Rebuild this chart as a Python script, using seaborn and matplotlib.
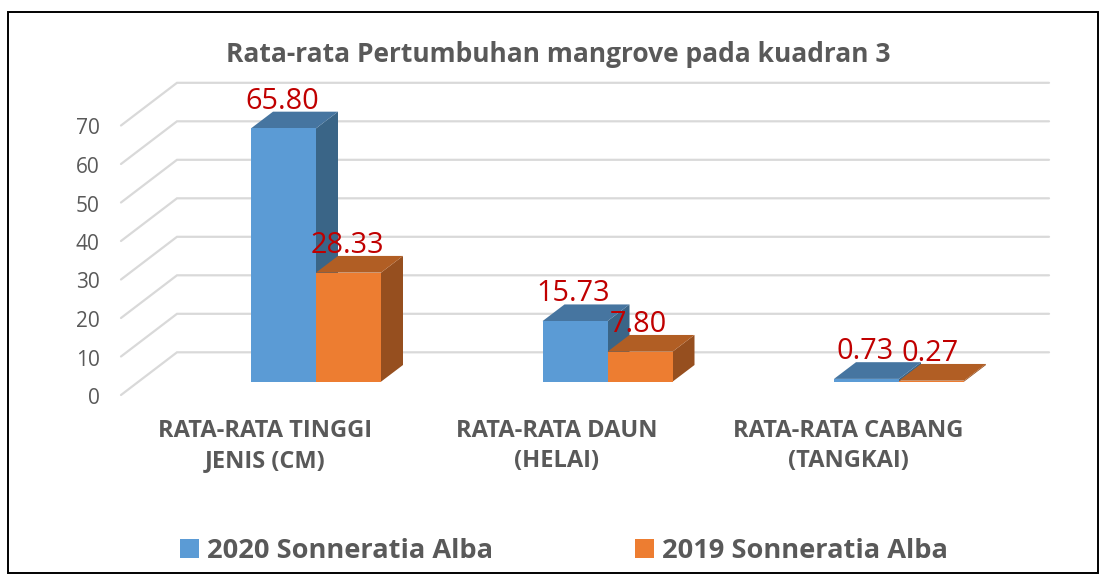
import pandas as pd
import numpy as np
import matplotlib
matplotlib.use('Agg')
import matplotlib.pyplot as plt
import seaborn as sns
from matplotlib.patches import Polygon, Rectangle
from matplotlib.transforms import ScaledTranslation

categories = ['RATA-RATA TINGGI\nJENIS (CM)', 'RATA-RATA DAUN\n(HELAI)', 'RATA-RATA CABANG\n(TANGKAI)']
series_names = ['2020 Sonneratia Alba', '2019 Sonneratia Alba']
values_2020 = [65.80, 15.73, 0.73]
values_2019 = [28.33, 7.80, 0.27]
y_ticks = [0, 10, 20, 30, 40, 50, 60, 70]

df = pd.DataFrame({
    'kategori': categories * 2,
    'seri': [series_names[0]] * 3 + [series_names[1]] * 3,
    'nilai': values_2020 + values_2019,
})

sns.set_theme(style='white')
plt.rcParams['font.family'] = ['Open Sans', 'DejaVu Sans']

W, H = 1099, 574
fig = plt.figure(figsize=(W / 100, H / 100), dpi=100, facecolor='white')

# axes placed so that y=0 is the front edge of the bars
left, right, base, top = 121, 1049, 381.7, 60
px_y = 3.85     # pixels per unit
px_x = 291.5    # pixels per category
ax = fig.add_axes([left / W, (H - base) / H, (right - left) / W, (base - top) / H])

front = {series_names[0]: '#5B9BD5', series_names[1]: '#ED7D31'}
top_col = {series_names[0]: '#4675A0', series_names[1]: '#B15E24'}
side_col = {series_names[0]: '#3A6587', series_names[1]: '#964F1F'}

sns.barplot(data=df, x='kategori', y='nilai', hue='seri', palette=front,
            width=65 * 2 / px_x, gap=0, saturation=1, ax=ax, zorder=2, linewidth=0)

ax.set_xlim((left - 316) / px_x, (right - 316) / px_x)
ax.set_ylim(0, (base - top) / px_y)
ax.set_xlabel('')
ax.set_ylabel('')
sns.despine(ax=ax, left=True, bottom=True)
ax.patch.set_alpha(0)

# wall and floor gridlines
wall_up = (base - 352.3) / px_y
floor_down = (395 - base) / px_y
back_x = (177 - 316) / px_x
for v in y_ticks:
    ax.plot([ax.get_xlim()[0], back_x, ax.get_xlim()[1]],
            [v - floor_down, v + wall_up, v + wall_up],
            color='#D9D9D9', lw=1.6, zorder=0, clip_on=False, solid_joinstyle='miter')

# depth faces for each bar, then the value above it
dx = 22 / px_x
dy = 16.7 / px_y
for i, name in enumerate(series_names):
    cont = ax.containers[i]
    z = 2 + i
    for bar in cont:
        x0, w, h = bar.get_x(), bar.get_width(), bar.get_height()
        bar.set_zorder(z + 0.2)
        ax.add_patch(Polygon([(x0, h), (x0 + w, h), (x0 + w + dx, h + dy), (x0 + dx, h + dy)],
                             closed=True, fc=top_col[name], ec='none', zorder=z + 0.1, clip_on=False))
        ax.add_patch(Polygon([(x0 + w, 0), (x0 + w + dx, dy), (x0 + w + dx, h + dy), (x0 + w, h)],
                             closed=True, fc=side_col[name], ec='none', zorder=z, clip_on=False))
        ax.annotate(f'{h:.2f}', (x0 + w / 2, h), xytext=(-1, 19.7), textcoords='offset points',
                    ha='center', va='center', color='#C00000', fontsize=20.8, zorder=6)

ax.set_yticks(y_ticks)
ax.tick_params(axis='y', length=0, pad=15.5, labelsize=15, labelcolor='#595959')
ax.tick_params(axis='x', length=0, pad=26.5, labelsize=17, labelcolor='#595959')
for lab in ax.get_xticklabels():
    lab.set_fontweight('bold')
    lab.set_linespacing(1.36)
    lab.set_transform(lab.get_transform() + ScaledTranslation(-50.5 / 100, 0, fig.dpi_scale_trans))
for lab in ax.get_yticklabels():
    lab.set_transform(lab.get_transform() + ScaledTranslation(0, -(floor_down * px_y + 1) / 100, fig.dpi_scale_trans))

fig.text(558 / W, 1 - 55 / H, 'Rata-rata Pertumbuhan mangrove pada kuadran 3', ha='center', va='center',
         fontsize=19, fontweight='bold', color='#595959')

handles, labels = ax.get_legend_handles_labels()
leg = ax.legend(handles, labels, loc='center left', bbox_to_anchor=(180 / W, 1 - 551 / H),
                bbox_transform=fig.transFigure, ncol=2, frameon=False,
                labelcolor='#595959', handlelength=0.7, handleheight=0.7, handletextpad=0.3,
                columnspacing=5.2, borderpad=0, borderaxespad=0,
                prop={'weight': 'bold', 'size': 19.6})

fig.add_artist(Rectangle((8 / W, 1 - 572.5 / H), 1090 / W, 561 / H, transform=fig.transFigure,
                         fc='none', ec='black', lw=1.4))

fig.savefig('out.png', dpi=100)
